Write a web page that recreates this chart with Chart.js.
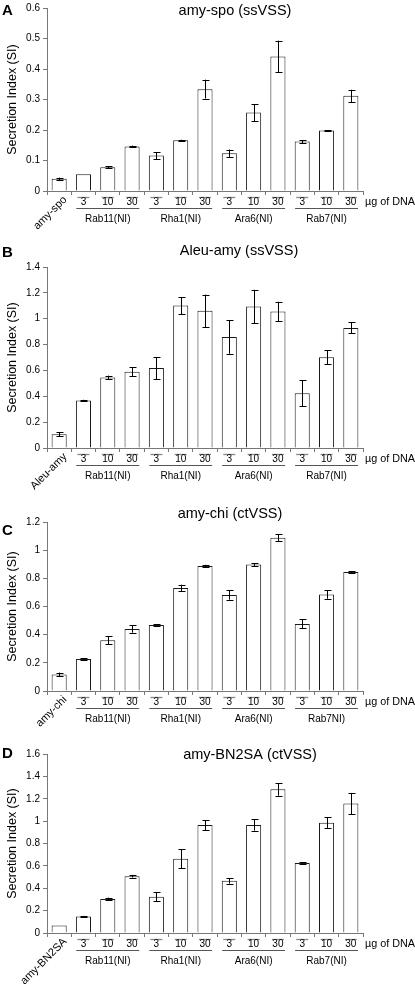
<!DOCTYPE html>
<html><head><meta charset="utf-8">
<script src="https://cdn.jsdelivr.net/npm/chart.js@4.4.0/dist/chart.umd.min.js"></script>
<style>
html,body{margin:0;padding:0;background:#fff;}
body{width:415px;height:988px;position:relative;overflow:hidden;}
canvas{position:absolute;left:0;}
</style></head><body>
<canvas id="cA" width="415" height="245" style="top:0px;width:415px;height:245px"></canvas>
<canvas id="cB" width="415" height="245" style="top:245px;width:415px;height:245px"></canvas>
<canvas id="cC" width="415" height="245" style="top:490px;width:415px;height:245px"></canvas>
<canvas id="cD" width="415" height="253" style="top:735px;width:415px;height:253px"></canvas>
<script>
// ---- data ----
const doseLabels = ['3', '10', '30'];
const groupLabels = ['Rab11(NI)', 'Rha1(NI)', 'Ara6(NI)', 'Rab7(NI)'];
const groupLabelsC = ['Rab11(NI)', 'Rha1(NI)', 'Ara6(NI)', 'Rab7NI)'];
const unitLabel = 'µg of DNA';
const yAxisTitle = 'Secretion Index (SI)';

const spoValues  = [0.040, 0.055, 0.078, 0.146, 0.116, 0.166, 0.334, 0.124, 0.257, 0.441, 0.162, 0.198, 0.312];
const spoErrors  = [0.004, 0, 0.004, 0.003, 0.011, 0.002, 0.031, 0.012, 0.028, 0.052, 0.005, 0.001, 0.020];
const aleuValues = [0.106, 0.367, 0.546, 0.590, 0.618, 1.102, 1.061, 0.859, 1.094, 1.056, 0.424, 0.701, 0.929];
const aleuErrors = [0.015, 0.006, 0.014, 0.034, 0.085, 0.066, 0.125, 0.130, 0.130, 0.075, 0.100, 0.055, 0.043];
const chiValues  = [0.118, 0.227, 0.360, 0.440, 0.469, 0.731, 0.888, 0.682, 0.899, 1.089, 0.476, 0.686, 0.845];
const chiErrors  = [0.013, 0.004, 0.028, 0.026, 0.004, 0.024, 0.008, 0.033, 0.010, 0.026, 0.032, 0.031, 0.004];
const bn2Values  = [0.068, 0.148, 0.304, 0.508, 0.325, 0.664, 0.965, 0.466, 0.965, 1.284, 0.626, 0.986, 1.157];
const bn2Errors  = [0, 0.005, 0.012, 0.012, 0.040, 0.083, 0.045, 0.024, 0.050, 0.056, 0.005, 0.047, 0.095];

const FONT = '"Liberation Sans", Arial, Helvetica, sans-serif';

const panels = [
  {id:'cA', h:245, plotTop:5,  plotBot:191, letter:'A', letterY:15, title:'amy-spo (ssVSS)', titleX:235, titleY:11,
   first:'amy-spo', groups:groupLabels, values:spoValues, errors:spoErrors, max:0.6, step:0.1},
  {id:'cB', h:245, plotTop:22, plotBot:203, letter:'B', letterY:12, title:'Aleu-amy (ssVSS)', titleX:239, titleY:6,
   first:'Aleu-amy', groups:groupLabels, values:aleuValues, errors:aleuErrors, max:1.4, step:0.2},
  {id:'cC', h:245, plotTop:32, plotBot:201, letter:'C', letterY:45, title:'amy-chi (ctVSS)', titleX:230, titleY:24,
   first:'amy-chi', groups:groupLabelsC, values:chiValues, errors:chiErrors, max:1.2, step:0.2},
  {id:'cD', h:253, plotTop:19, plotBot:198, letter:'D', letterY:23, title:'amy-BN2SA (ctVSS)', titleX:250, titleY:20,
   first:'amy-BN2SA', groups:groupLabels, values:bn2Values, errors:bn2Errors, max:1.6, step:0.2}
];

function makePanel(p) {
  const cats = [p.first];
  p.groups.forEach(() => doseLabels.forEach(d => cats.push(d)));

  const overlay = {
    id: 'overlay',
    afterDatasetsDraw(chart) {
      const ctx = chart.ctx;
      const ys = chart.scales.y;
      const meta = chart.getDatasetMeta(0);
      ctx.save();
      ctx.strokeStyle = '#000';
      ctx.lineWidth = 1;
      p.values.forEach((v, i) => {
        const e = p.errors[i];
        if (!e) return;
        const x = Math.round(meta.data[i].x) + 0.5;
        const y1 = ys.getPixelForValue(v + e);
        const y2 = ys.getPixelForValue(v - e);
        ctx.beginPath();
        ctx.moveTo(x, y1); ctx.lineTo(x, y2);
        ctx.moveTo(x - 3, Math.round(y1) + 0.5); ctx.lineTo(x + 4, Math.round(y1) + 0.5);
        ctx.moveTo(x - 3, Math.round(y2) + 0.5); ctx.lineTo(x + 4, Math.round(y2) + 0.5);
        ctx.stroke();
      });
      ctx.restore();
    },
    afterDraw(chart) {
      const ctx = chart.ctx;
      const xs = chart.scales.x;
      const area = chart.chartArea;
      const y0 = area.bottom;
      ctx.save();
      // panel letter
      ctx.fillStyle = '#000';
      ctx.font = 'bold 15px ' + FONT;
      ctx.textAlign = 'left';
      ctx.textBaseline = 'alphabetic';
      ctx.fillText(p.letter, 2, p.letterY);
      // title
      ctx.font = '14.5px ' + FONT;
      ctx.textAlign = 'center';
      ctx.textBaseline = 'middle';
      ctx.fillText(p.title, p.titleX, p.titleY);
      // y axis title
      ctx.save();
      ctx.translate(13, (area.top + area.bottom) / 2);
      ctx.rotate(-Math.PI / 2);
      ctx.font = '12.5px ' + FONT;
      ctx.fillText(yAxisTitle, 0, 0);
      ctx.restore();
      // first category label (rotated)
      const x0 = xs.getPixelForValue(0);
      ctx.save();
      ctx.translate(x0 + 6, y0 + 7);
      ctx.rotate(-Math.PI / 4);
      ctx.font = '11px ' + FONT;
      ctx.textAlign = 'right';
      ctx.textBaseline = 'middle';
      ctx.fillText(p.first, 0, 0);
      ctx.restore();
      // dose labels with overlines
      ctx.font = '10px ' + FONT;
      ctx.textAlign = 'center';
      ctx.textBaseline = 'middle';
      for (let i = 1; i < cats.length; i++) {
        const x = xs.getPixelForValue(i);
        ctx.strokeStyle = '#888';
        ctx.lineWidth = 1.3;
        ctx.beginPath();
        ctx.moveTo(x - 6, y0 + 6.5); ctx.lineTo(x + 6, y0 + 6.5);
        ctx.stroke();
        ctx.fillText(cats[i], x, y0 + 11.5);
      }
      // group lines and labels
      const cw = xs.getPixelForValue(1) - xs.getPixelForValue(0);
      p.groups.forEach((g, gi) => {
        const a = 1 + gi * 3, b = a + 2;
        const xa = xs.getPixelForValue(a) - cw / 2 + 5;
        const xb = xs.getPixelForValue(b) + cw / 2 - 5;
        ctx.strokeStyle = '#555';
        ctx.lineWidth = 1.2;
        ctx.beginPath();
        ctx.moveTo(xa, y0 + 17.5); ctx.lineTo(xb, y0 + 17.5);
        ctx.stroke();
        ctx.fillText(g, xs.getPixelForValue(a + 1), y0 + 28.5);
      });
      // unit label
      ctx.font = '10.8px ' + FONT;
      ctx.textAlign = 'left';
      ctx.fillText(unitLabel, 365, y0 + 11);
      ctx.restore();
    }
  };

  return new Chart(document.getElementById(p.id), {
    type: 'bar',
    data: {
      labels: cats,
      datasets: [{
        data: p.values,
        backgroundColor: '#ffffff',
        borderColor: '#1a1a1a',
        borderWidth: 1,
        barPercentage: 0.62,
        categoryPercentage: 1
      }]
    },
    options: {
      responsive: false,
      animation: false,
      devicePixelRatio: 1,
      layout: {padding: {top: p.plotTop, right: 52, left: 0, bottom: 0}},
      plugins: {legend: {display: false}, tooltip: {enabled: false}, title: {display: false}},
      scales: {
        x: {
          offset: true,
          grid: {offset: true, drawOnChartArea: false, drawTicks: true, tickLength: 4, color: '#777'},
          border: {display: true, color: '#777'},
          ticks: {display: false},
          afterFit: s => { s.height = p.h - p.plotBot; }
        },
        y: {
          min: 0, max: p.max,
          ticks: {stepSize: p.step, color: '#000', padding: 3, font: {family: FONT, size: 10, lineHeight: 1},
                  callback: v => String(+Number(v).toFixed(2))},
          grid: {drawOnChartArea: false, drawTicks: true, tickLength: 4, color: '#777'},
          border: {display: true, color: '#777'},
          afterFit: s => { s.width = 47; }
        }
      }
    },
    plugins: [overlay]
  });
}

panels.forEach(makePanel);
</script>
</body></html>
